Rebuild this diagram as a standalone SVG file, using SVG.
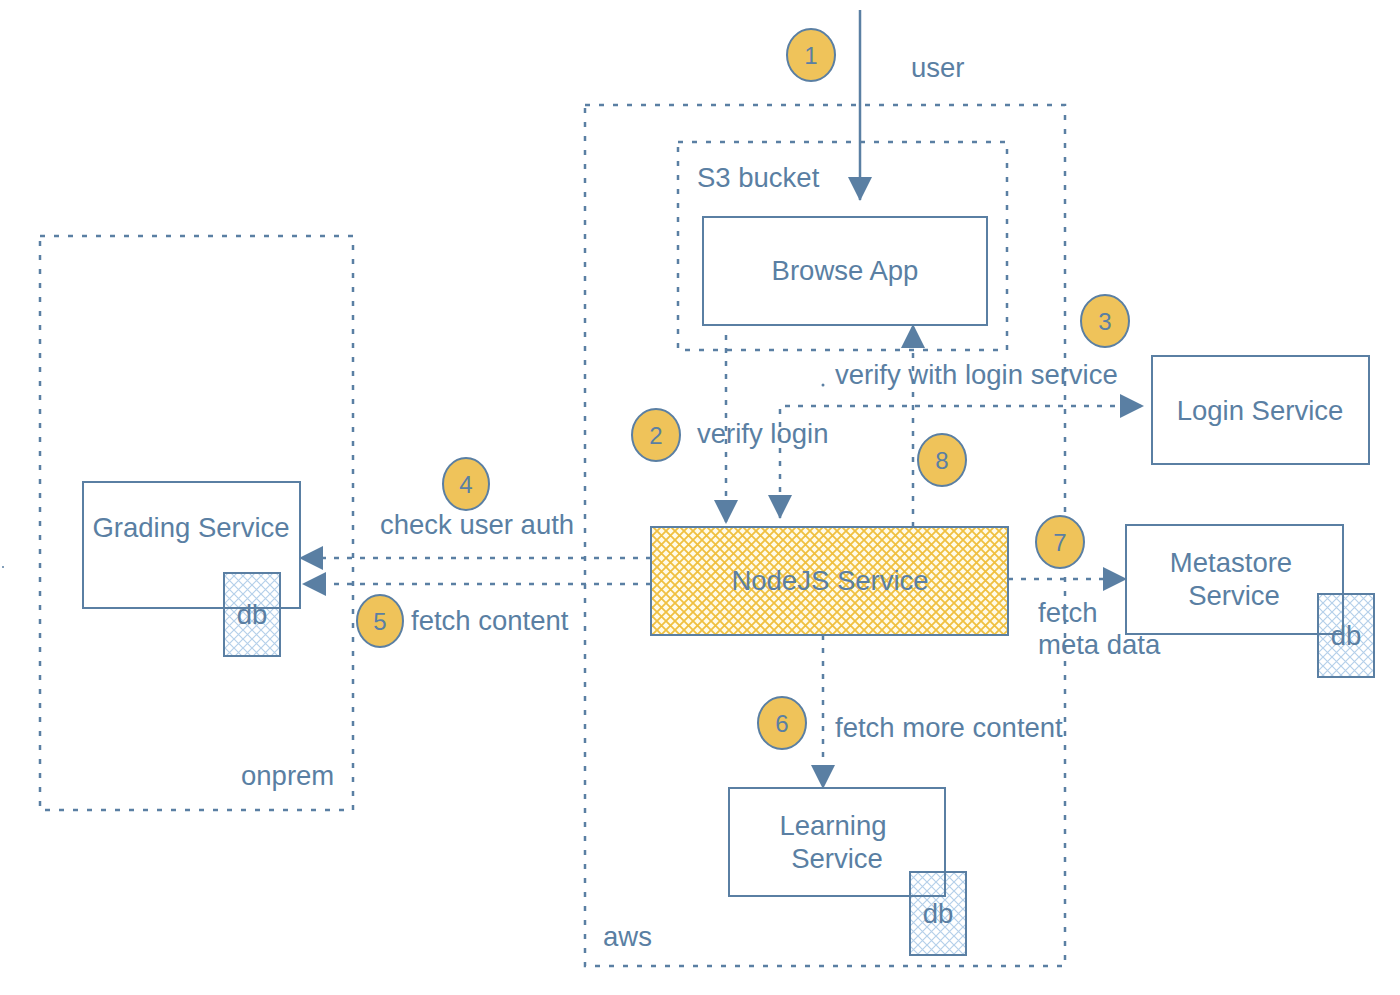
<svg xmlns="http://www.w3.org/2000/svg" width="1400" height="995" viewBox="0 0 1400 995">
  <defs>
    <style>
      text { font-family: "Liberation Sans", Arial, sans-serif; font-size: 27.5px; fill: #5a7fa3; }
      .box { fill: none; stroke: #5a7fa3; stroke-width: 2; }
      .zone { fill: none; stroke: #5a7fa3; stroke-width: 2.5; stroke-dasharray: 5 9; }
      .dot { fill: none; stroke: #5a7fa3; stroke-width: 2.5; stroke-dasharray: 5 8; }
      .solid { fill: none; stroke: #5a7fa3; stroke-width: 2.5; }
      .num { fill: #efc35a; stroke: #5a7fa3; stroke-width: 2; }
      .numt { font-size: 24px; text-anchor: middle; }
      .mid { text-anchor: middle; }
      .db { fill: url(#bluehatch); stroke: #5a7fa3; stroke-width: 2; }
    </style>
    <pattern id="yellowhatch" patternUnits="userSpaceOnUse" width="9" height="9">
      <rect width="9" height="9" fill="#fffbe8"/>
      <path d="M0,0 L9,9 M9,0 L0,9" stroke="#f0c040" stroke-width="1.8"/>
    </pattern>
    <pattern id="bluehatch" patternUnits="userSpaceOnUse" width="9" height="9">
      <path d="M0,0 L9,9 M9,0 L0,9" stroke="#b5d0ea" stroke-width="1.2"/>
    </pattern>
    <marker id="arr" viewBox="0 0 24 24" refX="23" refY="12" markerUnits="userSpaceOnUse" markerWidth="24" markerHeight="24" orient="auto">
      <path d="M0,0 L24,12 L0,24 Z" fill="#5a7fa3"/>
    </marker>
    <marker id="arrs" viewBox="0 0 24 24" refX="1" refY="12" markerUnits="userSpaceOnUse" markerWidth="24" markerHeight="24" orient="auto">
      <path d="M24,0 L0,12 L24,24 Z" fill="#5a7fa3"/>
    </marker>
  </defs>

  <rect width="1400" height="995" fill="#ffffff"/>

  <!-- zones -->
  <g id="zone-aws">
    <rect class="zone" x="585" y="105" width="480" height="861"/>
    <text x="603" y="946">aws</text>
  </g>
  <g id="zone-onprem">
    <rect class="zone" x="40" y="236" width="313" height="574"/>
    <text x="241" y="785">onprem</text>
  </g>
  <g id="zone-s3">
    <rect class="zone" x="678" y="142" width="329" height="208"/>
    <text x="697" y="187">S3 bucket</text>
  </g>

  <!-- nodes -->
  <g id="browse-app">
    <rect class="box" x="703" y="217" width="284" height="108"/>
    <text class="mid" x="845" y="280">Browse App</text>
  </g>
  <g id="login-service">
    <rect class="box" x="1152" y="356" width="217" height="108"/>
    <text class="mid" x="1260" y="420">Login Service</text>
  </g>
  <g id="grading-service">
    <rect class="db" x="224" y="573" width="56" height="83"/>
    <rect class="box" x="83" y="482" width="217" height="126"/>
    <text class="mid" x="191" y="537">Grading Service</text>
    <text class="mid" x="252" y="624">db</text>
  </g>
  <g id="nodejs-service">
    <rect x="651" y="527" width="357" height="108" fill="url(#yellowhatch)" stroke="#5a7fa3" stroke-width="2"/>
    <text class="mid" x="830" y="590">NodeJS Service</text>
  </g>
  <g id="metastore-service">
    <rect class="db" x="1318" y="594" width="56" height="83"/>
    <rect class="box" x="1126" y="525" width="217" height="109"/>
    <text class="mid" x="1231" y="572">Metastore</text>
    <text class="mid" x="1234" y="605">Service</text>
    <text class="mid" x="1346" y="645">db</text>
  </g>
  <g id="learning-service">
    <rect class="db" x="910" y="872" width="56" height="83"/>
    <rect class="box" x="729" y="788" width="216" height="108"/>
    <text class="mid" x="833" y="835">Learning</text>
    <text class="mid" x="837" y="868">Service</text>
    <text class="mid" x="938" y="923">db</text>
  </g>

  <!-- connectors -->
  <g id="connectors">
    <path class="solid" d="M860,10 L860,200" marker-end="url(#arr)"/>
    <path class="dot" d="M726,335 L726,523" marker-end="url(#arr)"/>
    <path class="dot" d="M780,518 L780,406 L1143,406" marker-start="url(#arrs)" marker-end="url(#arr)"/>
    <path class="dot" d="M651,558 L300,558" marker-end="url(#arr)"/>
    <path class="dot" d="M651,584 L303,584" marker-end="url(#arr)"/>
    <path class="dot" d="M823,635 L823,788" marker-end="url(#arr)"/>
    <path class="dot" d="M1008,579 L1126,579" marker-end="url(#arr)"/>
    <path class="dot" d="M913,527 L913,325" marker-end="url(#arr)"/>
  </g>

  <!-- labels -->
  <g id="labels">
    <text x="911" y="77">user</text>
    <circle cx="823" cy="385" r="1.5" fill="#5a7fa3"/>
    <text x="835" y="384">verify with login service</text>
    <text x="697" y="443">verify login</text>
    <text x="380" y="534">check user auth</text>
    <text x="411" y="630">fetch content</text>
    <text x="1038" y="622">fetch</text>
    <text x="1038" y="654">meta data</text>
    <text x="835" y="737">fetch more content</text>
    <circle cx="3" cy="567" r="1" fill="#5a7fa3"/>
  </g>

  <!-- step numbers -->
  <g id="steps">
    <ellipse class="num" cx="811" cy="55" rx="24" ry="26"/>
    <text class="numt" x="811" y="64">1</text>
    <ellipse class="num" cx="656" cy="435" rx="24" ry="26"/>
    <text class="numt" x="656" y="444">2</text>
    <ellipse class="num" cx="1105" cy="321" rx="24" ry="26"/>
    <text class="numt" x="1105" y="330">3</text>
    <ellipse class="num" cx="466" cy="484" rx="23" ry="26"/>
    <text class="numt" x="466" y="493">4</text>
    <ellipse class="num" cx="380" cy="621" rx="23" ry="26"/>
    <text class="numt" x="380" y="630">5</text>
    <ellipse class="num" cx="782" cy="723" rx="24" ry="26"/>
    <text class="numt" x="782" y="732">6</text>
    <ellipse class="num" cx="1060" cy="542" rx="24" ry="26"/>
    <text class="numt" x="1060" y="551">7</text>
    <ellipse class="num" cx="942" cy="460" rx="24" ry="26"/>
    <text class="numt" x="942" y="469">8</text>
  </g>
</svg>
